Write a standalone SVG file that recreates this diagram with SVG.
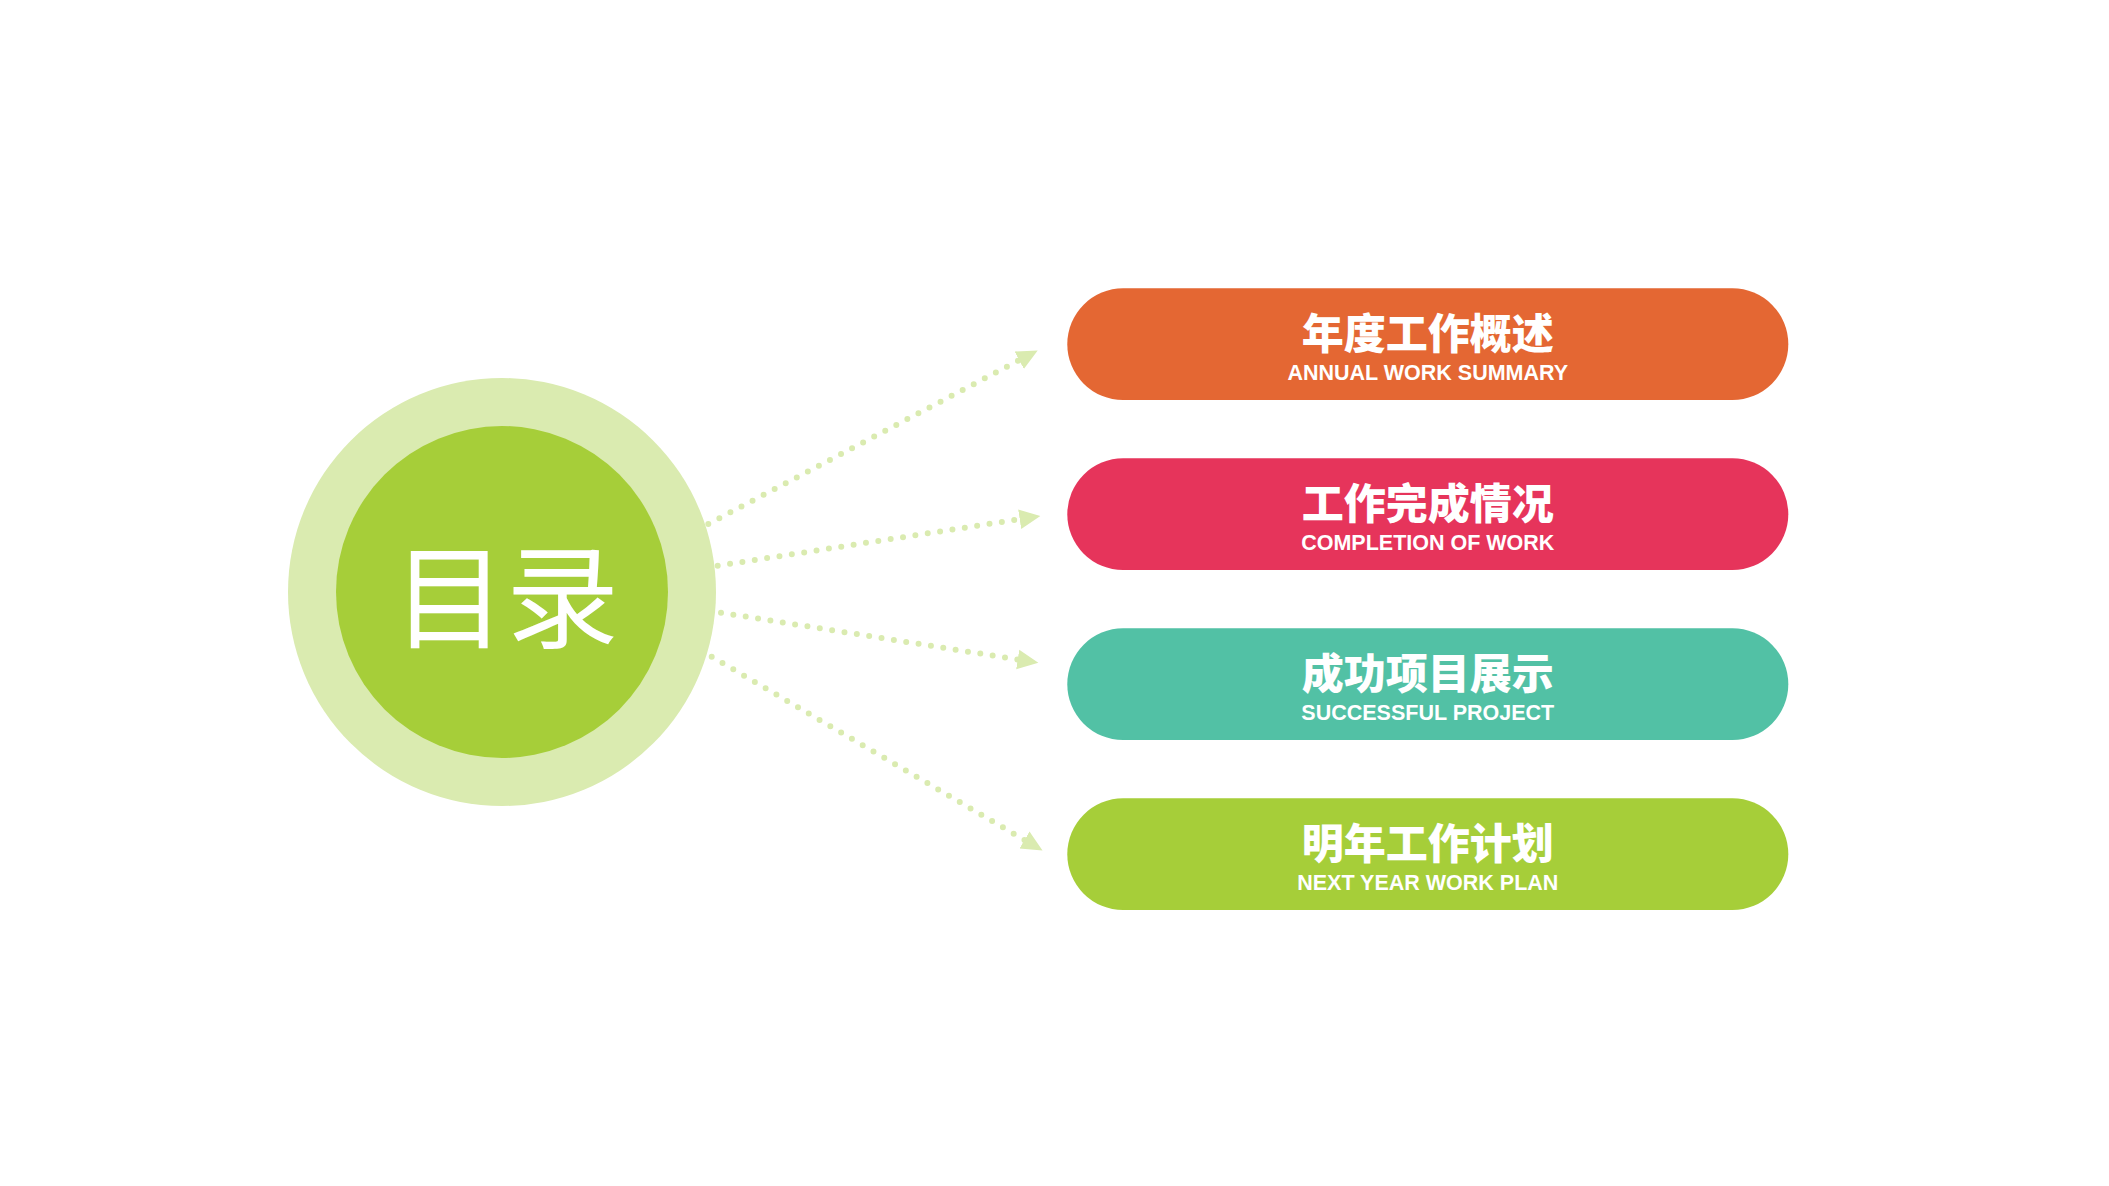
<svg xmlns="http://www.w3.org/2000/svg" width="2109" height="1186" viewBox="0 0 2109 1186">
<style>
.conn{fill:none;stroke:#DAEBB0;stroke-width:6;stroke-linecap:round;stroke-dasharray:0 12.5}
.title{font-family:"Noto Sans CJK SC","Noto Sans",sans-serif;font-weight:900;font-size:42px;fill:#fff;text-anchor:middle}
.sub{font-family:"Liberation Sans",Arial,sans-serif;font-weight:bold;font-size:21.5px;fill:#fff;text-anchor:middle}
.big{font-family:"Noto Sans CJK SC","Noto Sans",sans-serif;font-size:113px;fill:#fff;text-anchor:middle}
</style>
<defs>
<marker id="arr" markerUnits="userSpaceOnUse" markerWidth="22" markerHeight="22" viewBox="0 -10 20 20" refX="0" refY="0" orient="auto">
<path d="M0,-9 L19,0 L0,9 z" fill="#DAEBB0"/>
</marker>
</defs>
<rect width="2109" height="1186" fill="#fff"/>
<g id="connectors">
<path class="conn" d="M708.3,524 L1019.2,360.2" marker-end="url(#arr)"/>
<path class="conn" d="M717.7,565.7 L1019.7,519.2" marker-end="url(#arr)"/>
<path class="conn" d="M721,612.7 L1017.7,659.5" marker-end="url(#arr)"/>
<path class="conn" d="M711.7,656.7 L1024.5,840" marker-end="url(#arr)"/>
</g>
<g id="center">
<circle cx="502" cy="592" r="214" fill="#DAEBB0"/>
<circle cx="502" cy="592" r="166" fill="#A6CE39"/>
<text class="big" x="506" y="639">目录</text>
</g>
<g id="item1">
<rect x="1067.3" y="288.3" width="721" height="111.7" rx="55.85" fill="#E46733"/>
<text class="title" x="1427.8" y="348.5">年度工作概述</text>
<text class="sub" x="1427.8" y="380">ANNUAL WORK SUMMARY</text>
</g>
<g id="item2">
<rect x="1067.3" y="458.3" width="721" height="111.7" rx="55.85" fill="#E6345B"/>
<text class="title" x="1427.8" y="518.5">工作完成情况</text>
<text class="sub" x="1427.8" y="550">COMPLETION OF WORK</text>
</g>
<g id="item3">
<rect x="1067.3" y="628.3" width="721" height="111.7" rx="55.85" fill="#52C1A5"/>
<text class="title" x="1427.8" y="688.5">成功项目展示</text>
<text class="sub" x="1427.8" y="720">SUCCESSFUL PROJECT</text>
</g>
<g id="item4">
<rect x="1067.3" y="798.3" width="721" height="111.7" rx="55.85" fill="#A6CE39"/>
<text class="title" x="1427.8" y="858.5">明年工作计划</text>
<text class="sub" x="1427.8" y="890">NEXT YEAR WORK PLAN</text>
</g>
</svg>
